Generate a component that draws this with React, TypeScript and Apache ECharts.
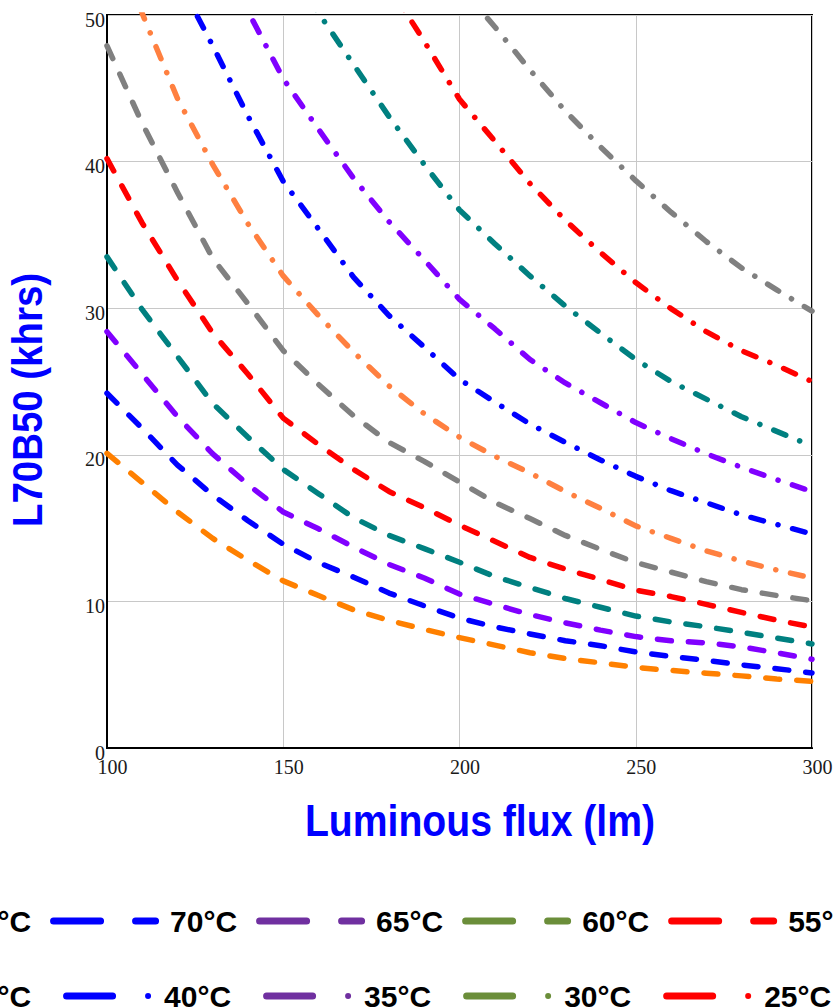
import React, { useEffect, useRef } from "react";
import * as echarts from "echarts";

// ---------- data ----------
const X_VALUES = [100, 110, 120, 130, 140, 150, 160, 170, 180, 190, 200, 210, 220, 230, 240, 250, 260, 270, 280, 290, 300];

// dashed family
const T80 = [20.1, 18.1, 16.1, 14.3, 12.8, 11.4, 10.4, 9.42, 8.71, 8.09, 7.53, 7.02, 6.5, 6.1, 5.81, 5.5, 5.29, 5.1, 4.92, 4.7, 4.55];
const T75 = [24.2, 21.8, 19.3, 17.25, 15.5, 13.9, 12.65, 11.65, 10.57, 9.7, 8.86, 8.26, 7.78, 7.32, 6.98, 6.55, 6.24, 5.98, 5.67, 5.41, 5.12];
const T70 = [28.4, 25.5, 22.6, 20.06, 17.97, 16.1, 14.95, 13.7, 12.52, 11.6, 10.5, 9.79, 9.1, 8.54, 8.04, 7.6, 7.31, 7.17, 6.9, 6.49, 6.05];
const T65 = [33.5, 29.9, 26.7, 23.5, 21.2, 19.0, 17.35, 15.7, 14.5, 13.6, 12.67, 11.7, 10.95, 10.2, 9.6, 9.0, 8.6, 8.27, 7.89, 7.5, 7.1];
const T60 = [40.2, 35.8, 31.9, 28.3, 25.5, 22.5, 20.7, 19.0, 17.5, 16.4, 15.2, 14.1, 13.0, 12.2, 11.5, 10.77, 10.33, 9.8, 9.25, 8.72, 8.25];
const T55 = [47.9, 42.6, 37.9, 33.4, 30.3, 27.1, 24.8, 22.65, 20.85, 19.55, 18.15, 16.75, 15.65, 14.5, 13.55, 12.65, 12.0, 11.35, 10.8, 10.4, 10.05];
// dash-dot family
const T50 = [56.0, 50.1, 44.3, 39.8, 35.75, 32.2, 29.5, 27.0, 24.7, 22.8, 21.2, 19.9, 18.76, 17.5, 16.35, 15.15, 14.3, 13.45, 12.75, 12.14, 11.6];
const T45 = [null, null, 52.5, 47.9, 43.1, 38.65, 35.4, 32.1, 29.5, 27.35, 25.15, 23.6, 22.1, 20.85, 19.65, 18.53, 17.55, 16.73, 15.9, 15.25, 14.6];
const T40 = [null, null, null, 54.8, 50.25, 45.65, 42.2, 38.85, 35.9, 33.3, 30.6, 28.6, 26.5, 24.9, 23.55, 22.2, 21.1, 20.07, 19.15, 18.3, 17.5];
const T35 = [null, null, null, null, null, 53.5, 50.15, 46.6, 43.07, 39.8, 36.7, 34.4, 32.2, 30.15, 28.3, 26.5, 25.0, 23.8, 22.6, 21.6, 20.6];
const T30 = [null, null, null, null, null, null, null, null, 52.0, 48.2, 44.25, 41.4, 38.5, 36.0, 33.8, 31.75, 29.97, 28.4, 27.1, 26.1, 25.0];
const T25 = [null, null, null, null, null, null, null, null, null, null, 52.0, 49.2, 46.25, 43.45, 41.0, 38.7, 36.55, 34.55, 32.75, 31.25, 29.8];

const DASHED_NAMES = ["80°C", "75°C", "70°C", "65°C", "60°C", "55°C"];
const DASHDOT_NAMES = ["50°C", "45°C", "40°C", "35°C", "30°C", "25°C"];
const DASHED_VALUES = [T80, T75, T70, T65, T60, T55];
const DASHDOT_VALUES = [T50, T45, T40, T35, T30, T25];
const DASHED_COLORS = ["#FF8000", "#0000FF", "#8000FF", "#008080", "#FF0000", "#808080"];
const DASHDOT_COLORS = ["#FF8040", "#0000FF", "#8000FF", "#008080", "#FF0000", "#808080"];
const LEGEND_COLORS = ["#6B8E3A", "#FF0000", "#0000FF", "#7030A0", "#6B8E3A", "#FF0000"];

const X_TICKS = { min: 100, max: 300, interval: 50 };
const Y_TICKS = { min: 0, max: 50, interval: 10 };

// ---------- layout ----------
const OFFSET = 380; // inner canvas is shifted left so the legend overflows like the reference
const INNER_W = 1400;
const H = 1007;

const ICON_DASH =
  "path://M3.5,0H50.5A3.5,3.5,0,0,1,50.5,7H3.5A3.5,3.5,0,0,1,3.5,0ZM85.5,0H105.5A3.5,3.5,0,0,1,105.5,7H85.5A3.5,3.5,0,0,1,85.5,0Z";
const ICON_DASHDOT =
  "path://M3.5,0H49.5A3.5,3.5,0,0,1,49.5,7H3.5A3.5,3.5,0,0,1,3.5,0ZM82,3.5A3,3,0,1,1,88,3.5A3,3,0,1,1,82,3.5Z";

const SANS = '"Liberation Sans", Arial, Helvetica, sans-serif';
const SERIF = '"Liberation Serif", "Times New Roman", Times, serif';

function buildSeries(names: string[], values: (number | null)[][], colors: string[], dash: number[]) {
  return names.map((name, k) => ({
    name,
    type: "line",
    data: X_VALUES.map((x, i) => [x, values[k][i]]),
    symbol: "none",
    showSymbol: false,
    clip: true,
    connectNulls: false,
    itemStyle: { color: colors[k] },
    lineStyle: { color: colors[k], width: 5.5, type: dash, cap: "round", join: "round" },
    emphasis: { disabled: true },
  }));
}

export default function App() {
  const ref = useRef<HTMLDivElement>(null);

  useEffect(() => {
    if (!ref.current) return;
    const chart = echarts.init(ref.current, undefined, { renderer: "svg" });
    const legendText = {
      fontFamily: SANS,
      fontWeight: "bold",
      fontSize: 30,
      color: "#000",
    };
    const option = {
      animation: false,
      backgroundColor: "#fff",
      grid: {
        left: 107 + OFFSET,
        top: 15,
        width: 705,
        height: 733,
        show: true,
        borderColor: "#000",
        borderWidth: 2,
        backgroundColor: "transparent",
      },
      xAxis: {
        type: "value",
        min: X_TICKS.min,
        max: X_TICKS.max,
        interval: X_TICKS.interval,
        axisLine: { show: true, lineStyle: { color: "#000", width: 2 } },
        axisTick: { show: false },
        splitLine: { show: true, lineStyle: { color: "#c8c8c8", width: 1 } },
        axisLabel: {
          show: true,
          margin: 9,
          fontFamily: SERIF,
          fontSize: 20,
          color: "#1a1a1a",
          padding: [0, 0, 0, 11],
          showMinLabel: true,
          showMaxLabel: true,
        },
      },
      yAxis: {
        type: "value",
        min: Y_TICKS.min,
        max: Y_TICKS.max,
        interval: Y_TICKS.interval,
        axisLine: { show: true, lineStyle: { color: "#000", width: 2 } },
        axisTick: { show: false },
        splitLine: { show: true, lineStyle: { color: "#c8c8c8", width: 1 } },
        axisLabel: {
          show: true,
          margin: 2,
          fontFamily: SERIF,
          fontSize: 20,
          color: "#1a1a1a",
          verticalAlign: "top",
          lineHeight: 9,
          showMinLabel: true,
          showMaxLabel: true,
        },
      },
      legend: [
        {
          orient: "horizontal",
          left: -362 + OFFSET,
          top: 906,
          padding: 0,
          itemWidth: 109,
          itemHeight: 7,
          itemGap: 19,
          icon: ICON_DASH,
          selectedMode: false,
          textStyle: { ...legendText, padding: [0, 0, 0, 6] },
          data: DASHED_NAMES.map((n, i) => ({ name: n, itemStyle: { color: LEGEND_COLORS[i], borderWidth: 0 } })),
        },
        {
          orient: "horizontal",
          left: -337 + OFFSET,
          top: 981,
          padding: 0,
          itemWidth: 88,
          itemHeight: 7,
          itemGap: 32,
          icon: ICON_DASHDOT,
          selectedMode: false,
          textStyle: { ...legendText, padding: [0, 0, 0, 8] },
          data: DASHDOT_NAMES.map((n, i) => ({ name: n, itemStyle: { color: LEGEND_COLORS[i], borderWidth: 0 } })),
        },
      ],
      graphic: [
        {
          type: "text",
          x: 480 + OFFSET,
          y: 821,
          scaleX: 0.89,
          silent: true,
          style: {
            text: "Luminous flux (lm)",
            fill: "#0000FF",
            font: `bold 44px ${SANS}`,
            align: "center",
            verticalAlign: "middle",
            textAlign: "center",
            textVerticalAlign: "middle",
          },
        },
        {
          type: "text",
          x: 28 + OFFSET,
          y: 400,
          rotation: Math.PI / 2,
          scaleX: 0.915,
          silent: true,
          style: {
            text: "L70B50 (khrs)",
            fill: "#0000FF",
            font: `bold 42px ${SANS}`,
            align: "center",
            verticalAlign: "middle",
            textAlign: "center",
            textVerticalAlign: "middle",
          },
        },
      ],
      series: [
        ...buildSeries(DASHED_NAMES, DASHED_VALUES, DASHED_COLORS, [14, 17]),
        ...buildSeries(DASHDOT_NAMES, DASHDOT_VALUES, DASHDOT_COLORS, [13, 15, 0.1, 15]),
      ],
    };
    chart.setOption(option as any);
    return () => chart.dispose();
  }, []);

  return (
    <div
      style={{
        position: "absolute",
        left: 0,
        top: 0,
        width: 833,
        height: H,
        overflow: "hidden",
        background: "#fff",
      }}
    >
      <div
        ref={ref}
        style={{ position: "absolute", left: -OFFSET, top: 0, width: INNER_W, height: H }}
      />
    </div>
  );
}
